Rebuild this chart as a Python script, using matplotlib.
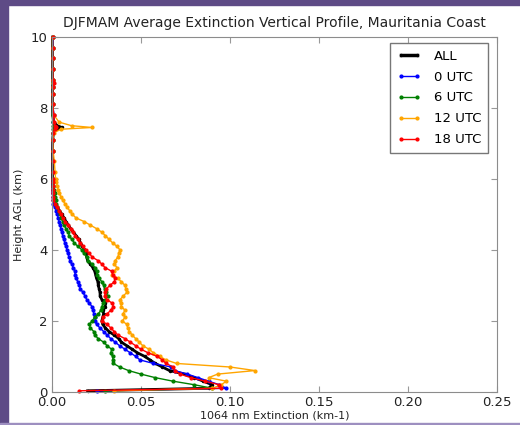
import matplotlib
matplotlib.use("Agg")
import matplotlib.pyplot as plt
from matplotlib.patches import Rectangle

# heights (km AGL) shared by every profile
HEIGHT = [0.03, 0.1, 0.2, 0.3, 0.4, 0.5, 0.6, 0.7, 0.8, 0.9,
          1.0, 1.1, 1.2, 1.3, 1.4, 1.5, 1.6, 1.7, 1.8, 1.9,
          2.0, 2.1, 2.2, 2.3, 2.4, 2.5, 2.6, 2.7, 2.8, 2.9,
          3.0, 3.1, 3.2, 3.3, 3.4, 3.5, 3.6, 3.7, 3.8, 3.9,
          4.0, 4.1, 4.2, 4.3, 4.4, 4.5, 4.6, 4.7, 4.8, 4.9,
          5.0, 5.1, 5.2, 5.3, 5.4, 5.5, 5.6, 5.7, 5.8, 5.9,
          6.0, 6.2, 6.5, 6.8, 7.1, 7.3, 7.4, 7.45, 7.5, 7.6,
          7.8, 8.1, 8.4, 8.6, 8.7, 8.8, 9.1, 9.4, 9.7, 10.0]

# 1064 nm extinction (km-1)
ext_all = [0.020, 0.088, 0.090, 0.085, 0.080, 0.0745, 0.066, 0.062, 0.058, 0.055,
           0.052, 0.048, 0.045, 0.042, 0.039, 0.0375, 0.035, 0.032, 0.030, 0.0285,
           0.028, 0.0285, 0.029, 0.0285, 0.030, 0.0298, 0.028, 0.027, 0.027, 0.0265,
           0.026, 0.0258, 0.025, 0.0245, 0.024, 0.023, 0.0215, 0.020, 0.0195, 0.019,
           0.0185, 0.017, 0.016, 0.015, 0.0135, 0.012, 0.0105, 0.009, 0.0078, 0.0068,
           0.0055, 0.0042, 0.003, 0.0018, 0.0012, 0.0008, 0.0006, 0.0005, 0.0004, 0.0003,
           0.0003, 0.0003, 0.0003, 0.0003, 0.0004, 0.0008, 0.002, 0.0055, 0.003, 0.001,
           0.0004, 0.0003, 0.0003, 0.0003, 0.0004, 0.0003, 0.0003, 0.0003, 0.0003, 0.0003]

ext_00 = [0.025, 0.098, 0.094, 0.088, 0.082, 0.076, 0.069, 0.067, 0.057, 0.0494,
          0.047, 0.044, 0.041, 0.038, 0.0355, 0.033, 0.031, 0.029, 0.027, 0.025,
          0.0242, 0.024, 0.0235, 0.023, 0.0225, 0.021, 0.0195, 0.0185, 0.0174, 0.016,
          0.0152, 0.0145, 0.0135, 0.013, 0.0128, 0.012, 0.011, 0.0102, 0.0095, 0.009,
          0.0085, 0.0078, 0.0072, 0.0066, 0.006, 0.0055, 0.005, 0.0045, 0.004, 0.0035,
          0.003, 0.0025, 0.0015, 0.0008, 0.0005, 0.0004, 0.0003, 0.0003, 0.0003, 0.0003,
          0.0003, 0.0003, 0.0003, 0.0003, 0.0003, 0.0004, 0.001, 0.0015, 0.001, 0.0008,
          0.0012, 0.0003, 0.0003, 0.0003, 0.0003, 0.0003, 0.0003, 0.0003, 0.0005, 0.0008]

ext_06 = [0.030, 0.090, 0.080, 0.068, 0.058, 0.050, 0.043, 0.038, 0.0345, 0.0343,
          0.034, 0.033, 0.0335, 0.031, 0.029, 0.026, 0.024, 0.0235, 0.0215, 0.021,
          0.0225, 0.024, 0.026, 0.0275, 0.028, 0.0287, 0.030, 0.0312, 0.0305, 0.0295,
          0.029, 0.028, 0.0265, 0.0255, 0.025, 0.0242, 0.0225, 0.0205, 0.0195, 0.018,
          0.0169, 0.0145, 0.0125, 0.011, 0.0098, 0.0088, 0.0078, 0.0068, 0.006, 0.0052,
          0.0045, 0.0038, 0.003, 0.0025, 0.002, 0.0018, 0.0016, 0.0012, 0.0008, 0.0005,
          0.0003, 0.0003, 0.0003, 0.0003, 0.0003, 0.0003, 0.0006, 0.001, 0.0006, 0.0003,
          0.0003, 0.0003, 0.0003, 0.0003, 0.0003, 0.0003, 0.0003, 0.0003, 0.0003, 0.0003]

ext_12 = [0.035, 0.090, 0.095, 0.098, 0.088, 0.093, 0.114, 0.100, 0.070, 0.064,
          0.0605, 0.057, 0.0545, 0.051, 0.049, 0.047, 0.045, 0.0435, 0.0425, 0.042,
          0.0395, 0.041, 0.0399, 0.041, 0.039, 0.0385, 0.0382, 0.040, 0.042, 0.0415,
          0.041, 0.039, 0.037, 0.0337, 0.035, 0.0365, 0.035, 0.0355, 0.037, 0.0375,
          0.0382, 0.0365, 0.034, 0.032, 0.030, 0.028, 0.025, 0.0215, 0.018, 0.0135,
          0.0115, 0.010, 0.0085, 0.0073, 0.006, 0.005, 0.004, 0.0034, 0.003, 0.0025,
          0.002, 0.0017, 0.0013, 0.0006, 0.0004, 0.001, 0.005, 0.0225, 0.011, 0.004,
          0.001, 0.0003, 0.0003, 0.0003, 0.0003, 0.0003, 0.0003, 0.0003, 0.0003, 0.0003]

ext_18 = [0.015, 0.095, 0.094, 0.086, 0.078, 0.072, 0.069, 0.068, 0.064, 0.062,
          0.059, 0.054, 0.050, 0.047, 0.044, 0.041, 0.037, 0.035, 0.033, 0.031,
          0.028, 0.0285, 0.031, 0.033, 0.0345, 0.0337, 0.031, 0.0295, 0.030, 0.0305,
          0.0325, 0.035, 0.0354, 0.034, 0.0335, 0.0298, 0.028, 0.0258, 0.0225, 0.021,
          0.019, 0.0172, 0.0157, 0.0145, 0.013, 0.0118, 0.0105, 0.009, 0.0075, 0.006,
          0.005, 0.004, 0.003, 0.0017, 0.0008, 0.0005, 0.0003, 0.0003, 0.0003, 0.0003,
          0.0003, 0.0003, 0.0003, 0.0003, 0.0003, 0.0005, 0.0015, 0.002, 0.0015, 0.0012,
          0.001, 0.0003, 0.0003, 0.0005, 0.0012, 0.0006, 0.0003, 0.0003, 0.0003, 0.0003]

series = [("ALL", ext_all, "black"),
          ("0 UTC", ext_00, "blue"),
          ("6 UTC", ext_06, "green"),
          ("12 UTC", ext_12, "orange"),
          ("18 UTC", ext_18, "red")]

fig = plt.figure(figsize=(5.2, 4.25), dpi=100)
ax = fig.add_axes([0.1, 0.078, 0.856, 0.835])

for label, vals, col in series:
    if label == "ALL":
        ax.plot(vals, HEIGHT, color=col, lw=2, marker=".", ms=3, label=label,
                clip_on=False)
    else:
        ax.plot(vals, HEIGHT, color=col, lw=1, marker=".", ms=4, label=label,
                clip_on=False)

ax.set_xlim(0, 0.25)
ax.set_ylim(0, 10)
ax.set_xticks([0.0, 0.05, 0.10, 0.15, 0.20, 0.25])
ax.set_xticklabels(["0.00", "0.05", "0.10", "0.15", "0.20", "0.25"])
ax.set_yticks([0, 2, 4, 6, 8, 10])
ax.tick_params(direction="in", top=True, right=True, length=4,
               color="#999999", labelsize=9.5, labelcolor="#222222", pad=3)
for sp in ax.spines.values():
    sp.set_color("#8c8c8c")

ax.set_title("DJFMAM Average Extinction Vertical Profile, Mauritania Coast",
             fontsize=10, color="#222222", pad=7)
ax.set_xlabel("1064 nm Extinction (km-1)", fontsize=8, color="#222222", labelpad=1)
ax.set_ylabel("Height AGL (km)", fontsize=8, color="#222222", labelpad=5)

leg = ax.legend(loc="upper right", bbox_to_anchor=(488 / 520, 1 - 43 / 425),
                bbox_transform=fig.transFigure, borderaxespad=0, fontsize=9.5,
                numpoints=2, fancybox=False, handlelength=1.8, labelspacing=0.6,
                handletextpad=1.0, borderpad=0.5, framealpha=1)
leg.get_frame().set_edgecolor("#777777")
leg.get_lines()[0].set_linewidth(2.5)

# purple frame around the picture
purple = "#5e4b86"
fig.patches.append(Rectangle((0, 0), 8 / 520, 1, transform=fig.transFigure,
                             color=purple, zorder=10))
fig.patches.append(Rectangle((0, 1 - 5 / 425), 1, 5 / 425, transform=fig.transFigure,
                             color=purple, zorder=10))
fig.patches.append(Rectangle((0, 0), 1, 2 / 425, transform=fig.transFigure,
                             color="#9d8fc0", zorder=10))

fig.savefig("out.png", dpi=100)
